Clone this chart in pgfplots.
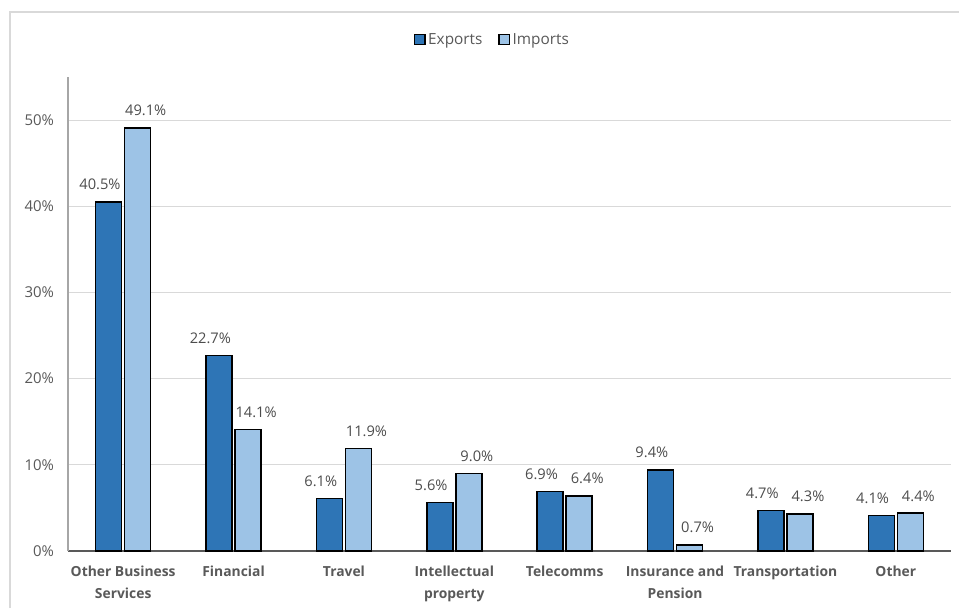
\documentclass[border=0pt]{standalone}
\usepackage{pgfplots}
\pgfplotsset{compat=1.18}
\usepackage{fontspec}
\setmainfont{Open Sans}
\definecolor{expc}{HTML}{2E75B6}
\definecolor{impc}{HTML}{9DC3E6}
\definecolor{txt}{HTML}{595959}
\definecolor{gridc}{HTML}{D9D9D9}
\begin{document}
\begin{tikzpicture}[x=0.75pt,y=0.75pt]
\path[use as bounding box] (0,0) rectangle (959,608);
\draw[gridc, line width=0.8pt] (10,0) -- (10,596) -- (959,596);
\begin{axis}[
  at={(68pt*0.75,57pt*0.75)}, anchor=south west,
  scale only axis,
  width=662.25pt, height=355.5pt,
  xmin=-0.5, xmax=7.5, ymin=0, ymax=55,
  ybar, bar width=19.5pt,
  xtick={0,...,7},
  xticklabels={Other Business\\Services, Financial, Travel, Intellectual\\property, Telecomms, Insurance and\\Pension, Transportation, Other},
  xticklabel style={align=center, font=\fontsize{10.4}{16.5}\selectfont\bfseries, text=txt, yshift=-8pt},
  ytick={0,10,20,30,40,50},
  yticklabel={\pgfmathprintnumber{\tick}\%},
  yticklabel style={font=\fontsize{11.2}{12}\selectfont, text=txt, xshift=-7pt},
  /pgf/number format/assume math mode=true,
  xmajorgrids=false, ymajorgrids, grid style={gridc, line width=0.8pt},
  major tick length=0pt,
  axis x line*=bottom, axis y line*=left,
  x axis line style={txt, line width=1.5pt, -},
  y axis line style={black!35, line width=0.8pt, -},
  nodes near coords={\pgfmathprintnumber[fixed,fixed zerofill,precision=1]{\pgfplotspointmeta}\%},
  nodes near coords style={font=\fontsize{11}{12}\selectfont, text=black!70, yshift=5pt},
  legend style={at={(0.481,1.078)}, anchor=center, draw=none, legend columns=2,
    font=\fontsize{11.5}{12}\selectfont, text=txt,
    /tikz/every even column/.append style={column sep=10pt}},
  legend image code/.code={\draw[#1, draw=black, line width=1pt] (0cm,-0.12cm) rectangle (0.27cm,0.15cm);},
  clip=false,
]
\addplot[fill=expc, draw=black, line width=1.1pt, bar shift=-10.9pt,
  nodes near coords style={xshift=-6.5pt}] coordinates {
(0,40.5) (1,22.7) (2,6.1) (3,5.6) (4,6.9) (5,9.4) (6,4.7) (7,4.1)};
\addplot[fill=impc, draw=black, line width=1.1pt, bar shift=10.9pt,
  nodes near coords style={xshift=6pt}] coordinates {
(0,49.1) (1,14.1) (2,11.9) (3,9.0) (4,6.4) (5,0.7) (6,4.3) (7,4.4)};
\legend{Exports, Imports}
\end{axis}
\end{tikzpicture}
\end{document}
